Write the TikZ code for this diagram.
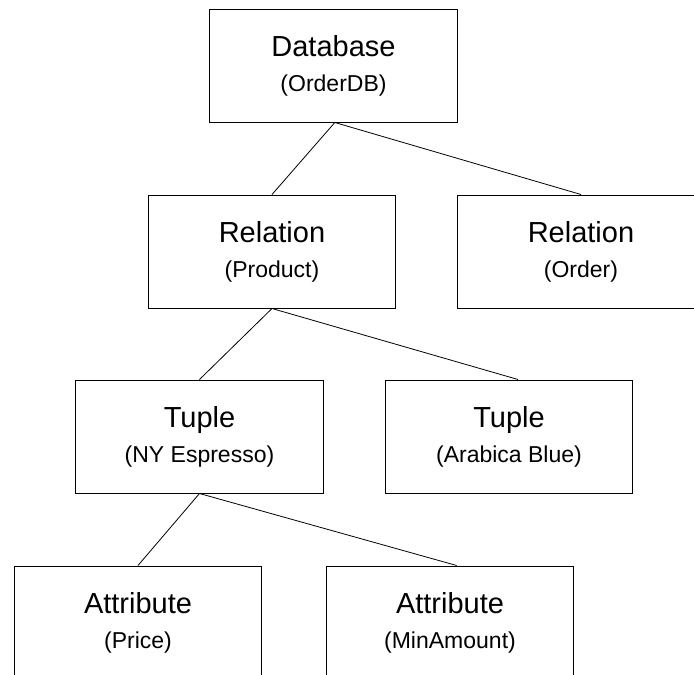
\documentclass[tikz,border=0pt]{standalone}
\usepackage{fontspec}
\setmainfont{Liberation Sans}
\newcommand{\subname}[1]{{\fontsize{17.25pt}{26.25pt}\selectfont(#1)}}

\begin{document}
\begin{tikzpicture}[x=0.75pt,y=-0.75pt,
		entity/.style={draw, rectangle, line width=0.75pt, minimum width=185.5pt, minimum height=84.75pt, inner sep=0pt, align=center, font=\fontsize{21.75pt}{26.25pt}\selectfont},
		link/.style={line width=0.6pt}]
		\useasboundingbox (0,0) rectangle (694,675);
		\clip (0,0) rectangle (694,675);
		
		\node (db) [entity] at (333.5,65.5) {Database\\\subname{OrderDB}};
		\node (relP) [entity] at (272,251.5) {Relation\\\subname{Product}};
		\node (relO) [entity] at (581,251.5) {Relation\\\subname{Order}};
		\node (tupN) [entity] at (199.5,436.5) {Tuple\\\subname{NY Espresso}};
		\node (tupA) [entity] at (509,436.5) {Tuple\\\subname{Arabica Blue}};
		\node (attP) [entity] at (138,622.5) {Attribute\\\subname{Price}};
		\node (attM) [entity] at (450,622.5) {Attribute\\\subname{MinAmount}};
		
		\draw[link] ([xshift=1pt]db.south) -- (relP.north);
		\draw[link] ([xshift=1pt]db.south) -- (relO.north);
		\draw[link] (relP.south) -- (tupN.north);
		\draw[link] (relP.south) -- ([xshift=6.75pt]tupA.north);
		\draw[link] (tupN.south) -- (attP.north);
		\draw[link] (tupN.south) -- ([xshift=5pt]attM.north);
	\end{tikzpicture}
\end{document}
